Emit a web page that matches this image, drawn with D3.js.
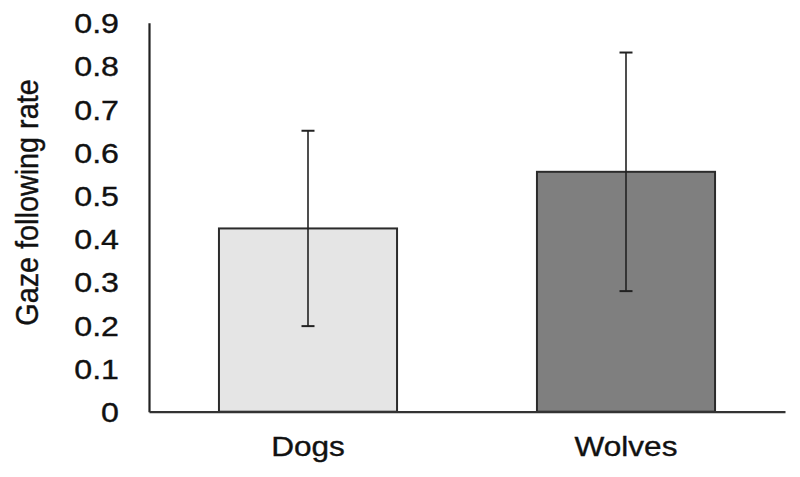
<!DOCTYPE html>
<html lang="en">
<head>
  <meta charset="UTF-8">
  <title>Gaze following rate</title>
  <script src="https://d3js.org/d3.v7.min.js"></script>
  <style>
    body { margin: 0; background: #fff; }
    text {
      fill: #111;
      stroke: #111;
      stroke-width: 0.35px;
      font-family: Arial, 'Liberation Sans', sans-serif;
    }
  </style>
</head>
<body>
  <svg width="800" height="477"></svg>

  <script>
    // The data
    const groups = ["Dogs", "Wolves"];
    const means = [0.424, 0.555];
    const errors = [0.226, 0.276];
    const fills = ["#e5e5e5", "#7f7f7f"];
    const yTicks = [0, 0.1, 0.2, 0.3, 0.4, 0.5, 0.6, 0.7, 0.8, 0.9];

    const data = groups.map((g, i) => ({ group: g, mean: means[i], err: errors[i], fill: fills[i] }));

    const svg = d3.select("svg");
    const plotLeft = 149, plotRight = 785, plotTop = 22.7, plotBottom = 411.7;
    const stretch = 1.17; // labels look slightly wide in the original

    // Scales
    const x = d3.scaleBand()
      .domain(groups)
      .range([plotLeft, plotRight])
      .paddingInner(0.44)
      .paddingOuter(0.22);
    const y = d3.scaleLinear()
      .domain([0, 0.9])
      .range([plotBottom, plotTop]);

    // Bars
    svg.selectAll("rect.bar")
      .data(data)
      .enter().append("rect")
      .attr("class", "bar")
      .attr("x", d => x(d.group))
      .attr("y", d => y(d.mean))
      .attr("width", x.bandwidth())
      .attr("height", d => y(0) - y(d.mean))
      .attr("fill", d => d.fill)
      .attr("stroke", "#2b2b2b")
      .attr("stroke-width", 2);

    // Error bars
    const eb = svg.selectAll("g.err")
      .data(data)
      .enter().append("g")
      .attr("class", "err")
      .attr("stroke", "#222")
      .attr("stroke-width", 1.6);
    eb.append("line")
      .attr("x1", d => x(d.group) + x.bandwidth() / 2)
      .attr("x2", d => x(d.group) + x.bandwidth() / 2)
      .attr("y1", d => y(d.mean + d.err))
      .attr("y2", d => y(d.mean - d.err));
    eb.selectAll("line.cap")
      .data(d => [d.mean + d.err, d.mean - d.err].map(v => ({ cx: x(d.group) + x.bandwidth() / 2, v: v })))
      .enter().append("line")
      .attr("class", "cap")
      .attr("x1", d => d.cx - 6.5)
      .attr("x2", d => d.cx + 6.5)
      .attr("y1", d => y(d.v))
      .attr("y2", d => y(d.v))
      .attr("stroke-width", 2);

    // Axes
    const yAxis = svg.append("g")
      .attr("transform", `translate(${plotLeft},0)`)
      .call(d3.axisLeft(y).tickValues(yTicks).tickSize(0).tickSizeOuter(0).tickFormat(d3.format("")));
    yAxis.select(".domain").attr("stroke", "#222").attr("stroke-width", 2.2);
    yAxis.selectAll(".tick text")
      .attr("x", 0)
      .attr("dy", "0.36em")
      .attr("transform", `translate(-30,0) scale(${stretch},1)`)
      .style("font-size", "27.5px")
      .attr("fill", "#111");

    const xAxis = svg.append("g")
      .attr("transform", `translate(0,${plotBottom})`)
      .call(d3.axisBottom(x).tickSize(0).tickSizeOuter(0));
    xAxis.select(".domain").attr("stroke", "#333").attr("stroke-width", 2.2);
    xAxis.selectAll(".tick text")
      .attr("y", 0)
      .attr("dy", 0)
      .attr("transform", `translate(0,44.5) scale(${stretch},1)`)
      .style("font-size", "27px")
      .attr("fill", "#111");

    // Y axis title
    svg.append("text")
      .attr("transform", "translate(38,202.5) scale(1.12,1) rotate(-90)")
      .attr("text-anchor", "middle")
      .style("font-size", "28.8px")
      .text("Gaze following rate");
  </script>
</body>
</html>
